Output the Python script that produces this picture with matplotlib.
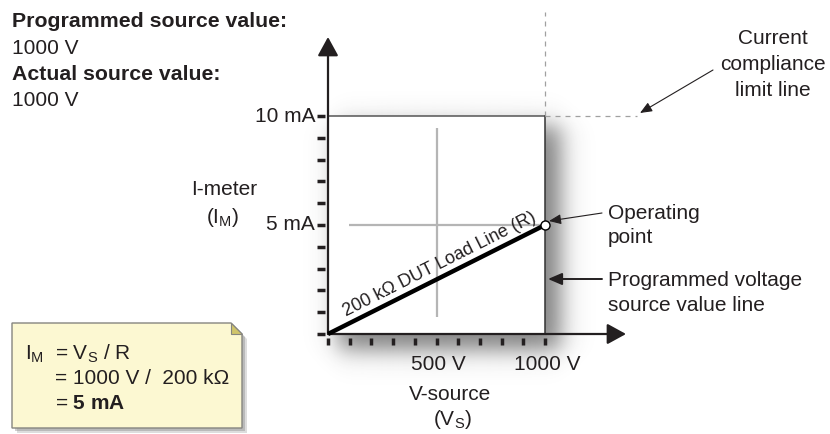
import numpy as np
import matplotlib.pyplot as plt
import matplotlib.transforms as mtransforms
from matplotlib.patches import Polygon, Rectangle

plt.rcParams['font.family'] = ['Liberation Sans', 'DejaVu Sans']
plt.rcParams['mathtext.fontset'] = 'custom'
plt.rcParams['mathtext.rm'] = 'Liberation Sans'
plt.rcParams['mathtext.it'] = 'Liberation Sans:italic'
plt.rcParams['mathtext.bf'] = 'Liberation Sans:bold'

#%% data
v_ticks = [0, 100, 200, 300, 400, 500, 600, 700, 800, 900, 1000]   # V
i_ticks = [0, 1, 2, 3, 4, 5, 6, 7, 8, 9, 10]                       # mA
v_labels = ['500 V', '1000 V']
v_label_pos = [500, 1000]
i_labels = ['5 mA', '10 mA']
i_label_pos = [5, 10]
load_v = [0, 1000]          # 200 kOhm load line
load_i = [0, 5]
compliance_ma = 10
source_v = 1000
guide_h_v = [97, 1000]      # light gray guide at 5 mA
guide_v_i = [0.8, 9.45]     # light gray guide at 500 V

TXT = '#231f20'
W, H = 830, 434
PX_V0, PX_V1000 = 328, 545
PX_I0, PX_I10 = 334, 116

def v_of(px):
    return (px - PX_V0) / (PX_V1000 - PX_V0) * 1000

def i_of(py):
    return (PX_I0 - py) / (PX_I0 - PX_I10) * 10

fig = plt.figure(figsize=(W / 100, H / 100), dpi=100)
ax = fig.add_axes([0, 0, 1, 1])
ax.set_xlim(v_of(0), v_of(W))
ax.set_ylim(i_of(H), i_of(0))
ax.axis('off')
pix = mtransforms.Affine2D().scale(1 / W, -1 / H).translate(0, 1) + fig.transFigure

#%% soft shadow behind the plot box
xs = np.arange(290, 640) + 0.5
ys = np.arange(80, 410) + 0.5
X, Y = np.meshgrid(xs, ys)
def step(t, s):
    return 0.5 * (1 + np.tanh(t / s))
alpha = step(X - 338, 14) * step(560 - X, 14) * step(Y - 126, 14) * step(350 - Y, 14) * 0.62
rgba = np.zeros(X.shape + (4,))
rgba[..., :3] = 0.2
rgba[..., 3] = alpha
ax.imshow(rgba, extent=[v_of(290), v_of(640), i_of(410), i_of(80)],
          origin='upper', aspect='auto', interpolation='bilinear', zorder=0)
ax.add_patch(Rectangle((0, 0), source_v, compliance_ma, facecolor='white',
                       edgecolor='none', zorder=1))

#%% guides, box edges, compliance lines
ax.plot([500, 500], guide_v_i, color='#b5b5b5', lw=1.6, zorder=2, solid_capstyle='butt')
ax.plot(guide_h_v, [5, 5], color='#b5b5b5', lw=1.6, zorder=2, solid_capstyle='butt')
ax.plot([0, source_v], [compliance_ma, compliance_ma], color='#555555', lw=1.1, zorder=3)
ax.plot([source_v, source_v], [0, compliance_ma], color='#333333', lw=1.1, zorder=3)
ax.plot([source_v, v_of(637)], [compliance_ma, compliance_ma], color='#a0a0a0',
        lw=0.9, ls=(0, (4, 4)), zorder=3)
ax.plot([source_v, source_v], [compliance_ma, i_of(12)], color='#a0a0a0',
        lw=0.9, ls=(0, (4, 4)), zorder=3)

#%% axes with arrows
head = dict(arrowstyle='-|>,head_length=0.82,head_width=0.45', mutation_scale=14,
            lw=1.6, color=TXT, shrinkA=0, shrinkB=0)
ax.annotate('', xy=(0, i_of(37)), xytext=(0, 0), arrowprops=head, zorder=5)
ax.annotate('', xy=(v_of(626), 0), xytext=(0, 0), arrowprops=head, zorder=5)

for v in v_ticks:
    ax.plot([v, v], [i_of(338), i_of(345)], color=TXT, lw=2.5, solid_capstyle='butt', zorder=5)
for i in i_ticks:
    ax.plot([v_of(317), v_of(325)], [i, i], color=TXT, lw=2.5, solid_capstyle='butt', zorder=5)

for lab, v in zip(v_labels, v_label_pos):
    ax.text(v + 10, i_of(370), lab, ha='center', va='baseline', fontsize=15, color=TXT)
for lab, i in zip(i_labels, i_label_pos):
    ax.text(v_of(315), i, lab, ha='right', va='center', fontsize=15, color=TXT)

#%% load line and operating point
ax.plot(load_v, load_i, color='black', lw=3.2, zorder=6, solid_capstyle='butt')
ax.plot([load_v[-1]], [load_i[-1]], 'o', ms=6.5, mfc='white', mec='black', mew=1.0, zorder=7)
ax.text(440, 264, '200 k\u03a9 DUT Load Line (R)', transform=pix, rotation=26.7,
        rotation_mode='anchor', ha='center', va='center', fontsize=13, color=TXT, zorder=7)

#%% axis titles
ax.text(450, 400, 'V-source', transform=pix, ha='center', va='baseline', fontsize=15, color=TXT)
ax.text(452, 425, r'(V$_\mathrm{S}$)', transform=pix, ha='center', va='baseline', fontsize=15, color=TXT)
ax.text(224, 195, 'I-meter', transform=pix, ha='center', va='baseline', fontsize=15, color=TXT)
ax.text(223, 223, r'(I$_\mathrm{M}$)', transform=pix, ha='center', va='baseline', fontsize=15, color=TXT)

#%% top-left status text
ax.text(12, 27, 'Programmed source value:', transform=pix, fontsize=15.3, fontweight='bold', color=TXT)
ax.text(12, 54, '1000 V', transform=pix, fontsize=15, color=TXT)
ax.text(12, 80, 'Actual source value:', transform=pix, fontsize=15.3, fontweight='bold', color=TXT)
ax.text(12, 106, '1000 V', transform=pix, fontsize=15, color=TXT)

#%% right-side callouts
ax.text(773, 44, 'Current', transform=pix, ha='center', fontsize=15, color=TXT)
ax.text(773, 70, 'compliance', transform=pix, ha='center', fontsize=15, color=TXT)
ax.text(773, 96, 'limit line', transform=pix, ha='center', fontsize=15, color=TXT)
thin = dict(arrowstyle='-|>,head_length=0.6,head_width=0.25', mutation_scale=12,
            lw=0.8, color=TXT, shrinkA=0, shrinkB=0)
ax.annotate('', xy=(640, 113), xytext=(713, 70), xycoords=pix, textcoords=pix, arrowprops=thin)

ax.text(608, 219, 'Operating', transform=pix, fontsize=15, color=TXT)
ax.text(608, 243, 'point', transform=pix, fontsize=15, color=TXT)
ax.annotate('', xy=(549, 221), xytext=(602, 213), xycoords=pix, textcoords=pix, arrowprops=thin)

ax.text(608, 286, 'Programmed voltage', transform=pix, fontsize=15, color=TXT)
ax.text(608, 311, 'source value line', transform=pix, fontsize=15, color=TXT)
mid = dict(arrowstyle='-|>,head_length=0.7,head_width=0.3', mutation_scale=12,
           lw=1.4, color=TXT, shrinkA=0, shrinkB=0)
ax.annotate('', xy=(548, 279), xytext=(602, 279), xycoords=pix, textcoords=pix, arrowprops=mid)

#%% note box
for off, a in [(5, 0.25), (3, 0.35)]:
    ax.add_patch(Polygon([(12 + off, 323 + off), (231 + off, 323 + off), (242 + off, 334 + off),
                          (242 + off, 428 + off), (12 + off, 428 + off)], closed=True,
                         transform=pix, facecolor='#7a7a7a', edgecolor='none', alpha=a, zorder=8))
ax.add_patch(Polygon([(12, 323), (231, 323), (242, 334), (242, 428), (12, 428)], closed=True,
                     transform=pix, facecolor='#fcf8d2', edgecolor='#858580', lw=1.0, zorder=9))
ax.add_patch(Polygon([(231, 323), (231, 334), (242, 334)], closed=True, transform=pix,
                     facecolor='#cfc46a', edgecolor='#858580', lw=0.8, zorder=10))
ax.text(25, 360, r'I$_\mathrm{M}$', transform=pix, fontsize=15, color=TXT, zorder=11)
ax.text(55, 360, r'= V$_\mathrm{S}$ / R', transform=pix, fontsize=15, color=TXT, zorder=11)
ax.text(55, 384, '= 1000 V /  200 k\u03a9', transform=pix, fontsize=15, color=TXT, zorder=11)
ax.text(55, 409, r'= $\mathbf{5\ mA}$', transform=pix, fontsize=15, color=TXT, zorder=11)

fig.savefig('out.png', dpi=100)
